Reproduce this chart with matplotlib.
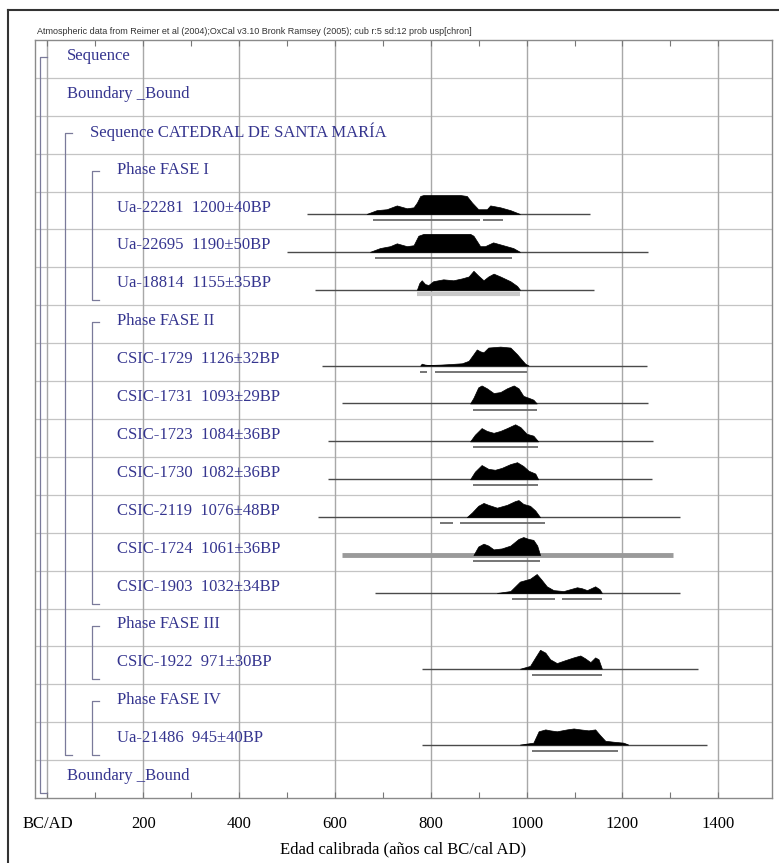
import matplotlib
matplotlib.use("Agg")
import matplotlib.pyplot as plt
from matplotlib.lines import Line2D
import matplotlib.transforms as mtransforms

# ---------------- data ----------------
row_labels = [
    "Sequence",
    "Boundary _Bound",
    "Sequence CATEDRAL DE SANTA MARÍA",
    "Phase FASE I",
    "Ua-22281  1200±40BP",
    "Ua-22695  1190±50BP",
    "Ua-18814  1155±35BP",
    "Phase FASE II",
    "CSIC-1729  1126±32BP",
    "CSIC-1731  1093±29BP",
    "CSIC-1723  1084±36BP",
    "CSIC-1730  1082±36BP",
    "CSIC-2119  1076±48BP",
    "CSIC-1724  1061±36BP",
    "CSIC-1903  1032±34BP",
    "Phase FASE III",
    "CSIC-1922  971±30BP",
    "Phase FASE IV",
    "Ua-21486  945±40BP",
    "Boundary _Bound",
]
row_levels = [0, 0, 1, 2, 2, 2, 2, 2, 2, 2, 2, 2, 2, 2, 2, 2, 2, 2, 2, 0]

# groups: (first row, last row, nesting level)
group_rows = [(0, 19, 0), (2, 18, 1), (3, 6, 2), (7, 14, 2), (15, 16, 2), (17, 18, 2)]

# posterior shapes (calendar year AD, relative density)
ua22281_years = [666, 687, 708, 729, 750, 764, 771, 778, 785, 861, 875, 886, 899, 917, 924, 945, 966, 986]
ua22281_dens = [0, 0.2, 0.25, 0.45, 0.3, 0.35, 0.6, 0.95, 1.0, 1.0, 0.95, 0.6, 0.25, 0.25, 0.45, 0.35, 0.2, 0]
ua22695_years = [673, 694, 715, 729, 750, 764, 774, 785, 882, 889, 903, 913, 930, 951, 972, 986]
ua22695_dens = [0, 0.2, 0.3, 0.45, 0.3, 0.35, 0.85, 0.95, 0.95, 0.85, 0.3, 0.3, 0.5, 0.35, 0.2, 0]
ua18814_years = [771, 776, 781, 788, 795, 805, 826, 847, 865, 879, 889, 899, 910, 920, 931, 945, 966, 980, 986]
ua18814_dens = [0, 0.35, 0.5, 0.3, 0.25, 0.45, 0.55, 0.5, 0.6, 0.7, 1.0, 0.75, 0.5, 0.7, 0.85, 0.7, 0.45, 0.2, 0]
csic1729_years = [778, 781, 788, 795, 820, 841, 865, 879, 889, 896, 903, 910, 920, 945, 966, 980, 990, 997, 1004]
csic1729_dens = [0, 0.1, 0.05, 0.03, 0.05, 0.08, 0.12, 0.25, 0.6, 0.85, 0.75, 0.7, 0.95, 1.0, 0.95, 0.6, 0.3, 0.1, 0]
csic1731_years = [882, 889, 899, 906, 917, 931, 945, 959, 973, 983, 993, 1004, 1014, 1021]
csic1731_dens = [0, 0.3, 0.85, 0.95, 0.8, 0.55, 0.6, 0.8, 0.95, 0.8, 0.4, 0.3, 0.2, 0]
csic1723_years = [882, 892, 906, 917, 931, 945, 959, 976, 987, 1000, 1014, 1024]
csic1723_dens = [0, 0.35, 0.7, 0.55, 0.45, 0.55, 0.7, 0.9, 0.75, 0.4, 0.3, 0]
csic1730_years = [882, 892, 906, 920, 934, 948, 966, 980, 993, 1004, 1018, 1024]
csic1730_dens = [0, 0.4, 0.75, 0.55, 0.5, 0.6, 0.8, 0.9, 0.7, 0.45, 0.3, 0]
csic2119_years = [875, 886, 899, 910, 920, 938, 959, 976, 983, 993, 1007, 1018, 1028]
csic2119_dens = [0, 0.25, 0.6, 0.75, 0.65, 0.5, 0.65, 0.85, 0.9, 0.7, 0.6, 0.35, 0]
csic1724_years = [889, 899, 910, 920, 931, 948, 966, 983, 993, 1004, 1014, 1022, 1028]
csic1724_dens = [0, 0.45, 0.6, 0.5, 0.3, 0.35, 0.5, 0.85, 0.95, 0.85, 0.8, 0.5, 0]
csic1903_years = [938, 966, 986, 1007, 1021, 1031, 1042, 1056, 1077, 1091, 1105, 1115, 1126, 1143, 1152, 1157]
csic1903_dens = [0, 0.1, 0.6, 0.75, 1.0, 0.7, 0.35, 0.15, 0.1, 0.2, 0.3, 0.25, 0.15, 0.35, 0.2, 0]
csic1922_years = [986, 1007, 1018, 1028, 1039, 1049, 1063, 1080, 1098, 1112, 1122, 1133, 1143, 1150, 1157]
csic1922_dens = [0, 0.15, 0.6, 1.0, 0.85, 0.5, 0.3, 0.45, 0.6, 0.7, 0.55, 0.35, 0.6, 0.5, 0]
ua21486_years = [986, 1014, 1025, 1039, 1049, 1063, 1084, 1098, 1112, 1129, 1143, 1153, 1164, 1181, 1202, 1212]
ua21486_dens = [0, 0.1, 0.7, 0.8, 0.75, 0.7, 0.8, 0.85, 0.8, 0.75, 0.8, 0.5, 0.2, 0.15, 0.1, 0]

dist_rows = [4, 5, 6, 8, 9, 10, 11, 12, 13, 14, 16, 18]
dist_years = [ua22281_years, ua22695_years, ua18814_years, csic1729_years, csic1731_years,
              csic1723_years, csic1730_years, csic2119_years, csic1724_years, csic1903_years,
              csic1922_years, ua21486_years]
dist_dens = [ua22281_dens, ua22695_dens, ua18814_dens, csic1729_dens, csic1731_dens,
             csic1723_dens, csic1730_dens, csic2119_dens, csic1724_dens, csic1903_dens,
             csic1922_dens, ua21486_dens]

# full span lines (start, end) per distribution row
span_start = [541, 499, 558, 572, 614, 586, 586, 565, 614, 684, 781, 781]
span_end = [1133, 1254, 1140, 1251, 1254, 1264, 1262, 1321, 1306, 1321, 1358, 1376]

# 95.4% ranges per distribution row
range_segments = [
    [(680, 903), (909, 951)],
    [(684, 970)],
    [(771, 986)],
    [(778, 792), (809, 1001)],
    [(889, 1021)],
    [(889, 1024)],
    [(889, 1024)],
    [(820, 847), (861, 1039)],
    [(889, 1028)],
    [(969, 1059), (1073, 1157)],
    [(1011, 1157)],
    [(1011, 1191)],
]

tick_values = [0, 200, 400, 600, 800, 1000, 1200, 1400]
tick_labels = ["BC/AD", "200", "400", "600", "800", "1000", "1200", "1400"]

title_text = ("Atmospheric data from Reimer et al (2004);OxCal v3.10 Bronk Ramsey (2005); "
              "cub r:5 sd:12 prob usp[chron]")
xlabel_text = "Edad calibrada (años cal BC/cal AD)"

# ---------------- figure ----------------
W, H = 779, 863
fig = plt.figure(figsize=(W / 100, H / 100), dpi=100)
ax_l, ax_r, ax_t, ax_b = 35, 772, 40, 798
ax = fig.add_axes([ax_l / W, 1 - ax_b / H, (ax_r - ax_l) / W, (ax_b - ax_t) / H])

nrows = len(row_labels)
ax.set_xlim(-26, 1512)
ax.set_ylim(nrows, 0)

label_color = "#35358f"
serif = ["Liberation Serif", "DejaVu Serif"]

# grid
for r in range(1, nrows):
    ax.axhline(r, color="#c4c4c4", lw=0.9, zorder=1)
for tv in tick_values:
    ax.axvline(tv, color="#a8a8a8", lw=1.0, zorder=1)

base_off = 0.59
bar_off = 0.75
hscale = 0.5

for i, row in enumerate(dist_rows):
    yb = row + base_off
    lw = 3.5 if row == 13 else 1.0
    col = "#9a9a9a" if row == 13 else "#4a4a4a"
    ax.plot([span_start[i], span_end[i]], [yb, yb], color=col, lw=lw, zorder=2,
            solid_capstyle="butt")
    ys = [yb - d * hscale for d in dist_dens[i]]
    ax.fill_between(dist_years[i], ys, yb, color="black", lw=0.5, zorder=3)
    for (a, b) in range_segments[i]:
        if row == 6:
            ax.plot([a, b], [row + 0.7, row + 0.7], color="#c8c8c8", lw=3.0, zorder=2,
                    solid_capstyle="butt")
        else:
            ax.plot([a, b], [row + bar_off, row + bar_off], color="#6a6a6a", lw=1.3, zorder=2,
                    solid_capstyle="butt")

# labels and brackets (x in axes fraction)
trans = mtransforms.blended_transform_factory(ax.transAxes, ax.transData)
px = 1.0 / (ax_r - ax_l)
bracket_x = [(40 - ax_l) * px, (65 - ax_l) * px, (92 - ax_l) * px]
text_x = [(67 - ax_l) * px, (90 - ax_l) * px, (117 - ax_l) * px]

for r, (lab, lev) in enumerate(zip(row_labels, row_levels)):
    ax.text(text_x[lev], r + 0.42, lab, transform=trans, color=label_color,
            fontsize=12, family=serif, va="center", ha="left", zorder=4)

for (r0, r1, lev) in group_rows:
    x = bracket_x[lev]
    y0 = r0 + 0.45
    y1 = r1 + 0.87
    tick = 7 * px
    ax.plot([x + tick, x, x, x + tick], [y0, y0, y1, y1], transform=trans,
            color="#7a7a9a", lw=0.9, zorder=4)

ax.set_xticks(tick_values)
ax.set_xticklabels(tick_labels, family=serif, fontsize=12)
ax.set_xticks(list(range(100, 1500, 200)), minor=True)
ax.tick_params(axis="x", which="both", direction="in", top=True, length=4, width=0.8,
               color="#777777", pad=13)
ax.set_yticks([])
for s in ax.spines.values():
    s.set_color("#8a8a8a")
    s.set_linewidth(1.0)

ax.set_xlabel(xlabel_text, family=serif, fontsize=12, labelpad=7)

fig.text(37 / W, 1 - 31 / H, title_text, fontsize=6.5, family=["Liberation Sans", "DejaVu Sans"],
         va="center", ha="left", color="#333333")

# outer decorative border (top and left)
fig.add_artist(Line2D([8 / W, 8 / W], [0, 1 - 10 / H], transform=fig.transFigure,
                      color="#333333", lw=1.5))
fig.add_artist(Line2D([8 / W, 1], [1 - 10 / H, 1 - 10 / H], transform=fig.transFigure,
                      color="#333333", lw=1.5))

fig.savefig("out.png", dpi=100)
